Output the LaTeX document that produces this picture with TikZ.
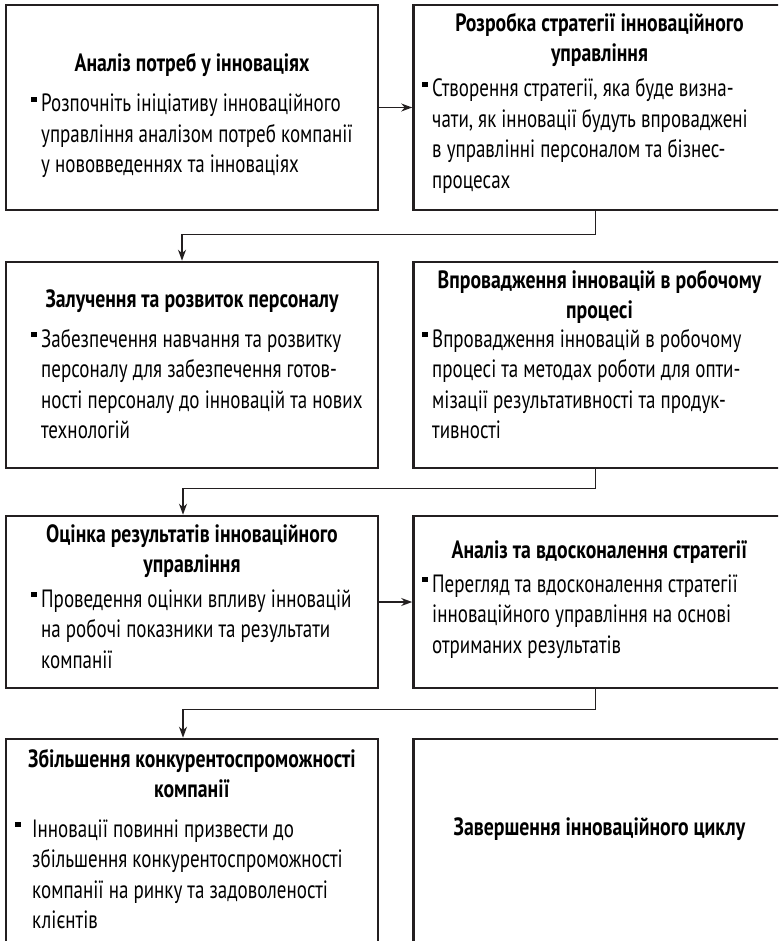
\documentclass[tikz,border=0pt]{standalone}
\usepackage{fontspec}
\setmainfont{PT Sans}[FakeStretch=0.76,BoldFeatures={FakeStretch=0.79}]
\usetikzlibrary{arrows.meta}

\definecolor{linec}{HTML}{231F20}
\newcommand{\marker}{\rule[10pt]{6pt}{5pt}}

\begin{document}
\begin{tikzpicture}[x=1pt,y=-1pt,
	stage/.style={draw=linec,line width=2.6pt,minimum width=372pt,inner sep=0pt},
	boxtitle/.style={font=\fontsize{25}{30}\selectfont\bfseries,anchor=base,inner sep=0pt},
	boxbody/.style={font=\fontsize{25}{30.5}\selectfont,anchor=base west,inner sep=0pt},
	link/.style={draw=linec,line width=1.5pt,-{Stealth[length=11pt,width=8pt]}}]
	\useasboundingbox (0,0) rectangle (778,941);
	\clip (0,0) rectangle (778,941);
	\node[stage,minimum height=205pt] (potreby) at (192,107.5) {};
	\node[stage,minimum height=205pt] (stratehiia) at (599.5,107.5) {};
	\node[stage,minimum height=206pt] (personal) at (192,365) {};
	\node[stage,minimum height=206pt] (vprovadzhennia) at (599.5,365) {};
	\node[stage,minimum height=172pt] (otsinka) at (192,602) {};
	\node[stage,minimum height=172pt] (vdoskonalennia) at (599.5,602) {};
	\node[stage,minimum height=240pt] (konkurent) at (192,859) {};
	\node[stage,minimum height=240pt] (zavershennia) at (599.5,859) {};
	\node[boxtitle] (potreby-t) at (192,72) {Аналіз потреб у інноваціях};
	\node[boxbody] (potreby-b) at (31,112) {\marker\hspace{4pt}\parbox[t]{400pt}{Розпочніть ініціативу інноваційного\\управління аналізом потреб компанії\\у нововведеннях та інноваціях}};
	\node[boxtitle] (stratehiia-t) at (599.5,32) {\begin{tabular}[t]{@{}c@{}}Розробка стратегії інноваційного\\управління\end{tabular}};
	\node[boxbody] (stratehiia-b) at (422,97) {\marker\hspace{4pt}\parbox[t]{400pt}{Створення стратегії, яка буде визна-\\чати, як інновації будуть впроваджені\\в управлінні персоналом та бізнес-\\процесах}};
	\node[boxtitle] (personal-t) at (192,307) {Залучення та розвиток персоналу};
	\node[boxbody] (personal-b) at (31,347) {\marker\hspace{4pt}\parbox[t]{400pt}{Забезпечення навчання та розвитку\\персоналу для забезпечення готов-\\ності персоналу до інновацій та нових\\технологій}};
	\node[boxtitle] (vprovadzhennia-t) at (599.5,288) {\begin{tabular}[t]{@{}c@{}}Впровадження інновацій в робочому\\процесі\end{tabular}};
	\node[boxbody] (vprovadzhennia-b) at (422,347) {\marker\hspace{4pt}\parbox[t]{400pt}{Впровадження інновацій в робочому\\процесі та методах роботи для опти-\\мізації результативності та продук-\\тивності}};
	\node[boxtitle] (otsinka-t) at (192,542) {\begin{tabular}[t]{@{}c@{}}Оцінка результатів інноваційного\\управління\end{tabular}};
	\node[boxbody] (otsinka-b) at (31,607) {\marker\hspace{4pt}\parbox[t]{400pt}{Проведення оцінки впливу інновацій\\на робочі показники та результати\\компанії}};
	\node[boxtitle] (vdoskonalennia-t) at (599.5,558) {Аналіз та вдосконалення стратегії};
	\node[boxbody] (vdoskonalennia-b) at (422,592) {\marker\hspace{4pt}\parbox[t]{400pt}{Перегляд та вдосконалення стратегії\\інноваційного управління на основі\\отриманих результатів}};
	\node[boxtitle] (konkurent-t) at (192,767) {\begin{tabular}[t]{@{}c@{}}Збільшення конкурентоспроможності\\компанії\end{tabular}};
	\node[boxbody] (konkurent-b) at (15,837) {\marker\hspace{11pt}\parbox[t]{400pt}{Інновації повинні призвести до\\збільшення конкурентоспроможності\\компанії на ринку та задоволеності\\клієнтів}};
	\node[boxtitle] (zavershennia-t) at (599.5,835) {Завершення інноваційного циклу};
	\draw[link] (potreby) -- (stratehiia);
	\draw[link] ([xshift=-4pt]stratehiia.south) -- ++(0,23) -| ([xshift=-10pt]personal.north);
	\draw[link] ([xshift=-4pt]vprovadzhennia.south) -- ++(0,19) -| ([xshift=-9pt]otsinka.north);
	\draw[link] (otsinka) -- (vdoskonalennia);
	\draw[link] ([xshift=-4pt]vdoskonalennia.south) -- ++(0,20) -| ([xshift=-9pt]konkurent.north);
\end{tikzpicture}
\end{document}
